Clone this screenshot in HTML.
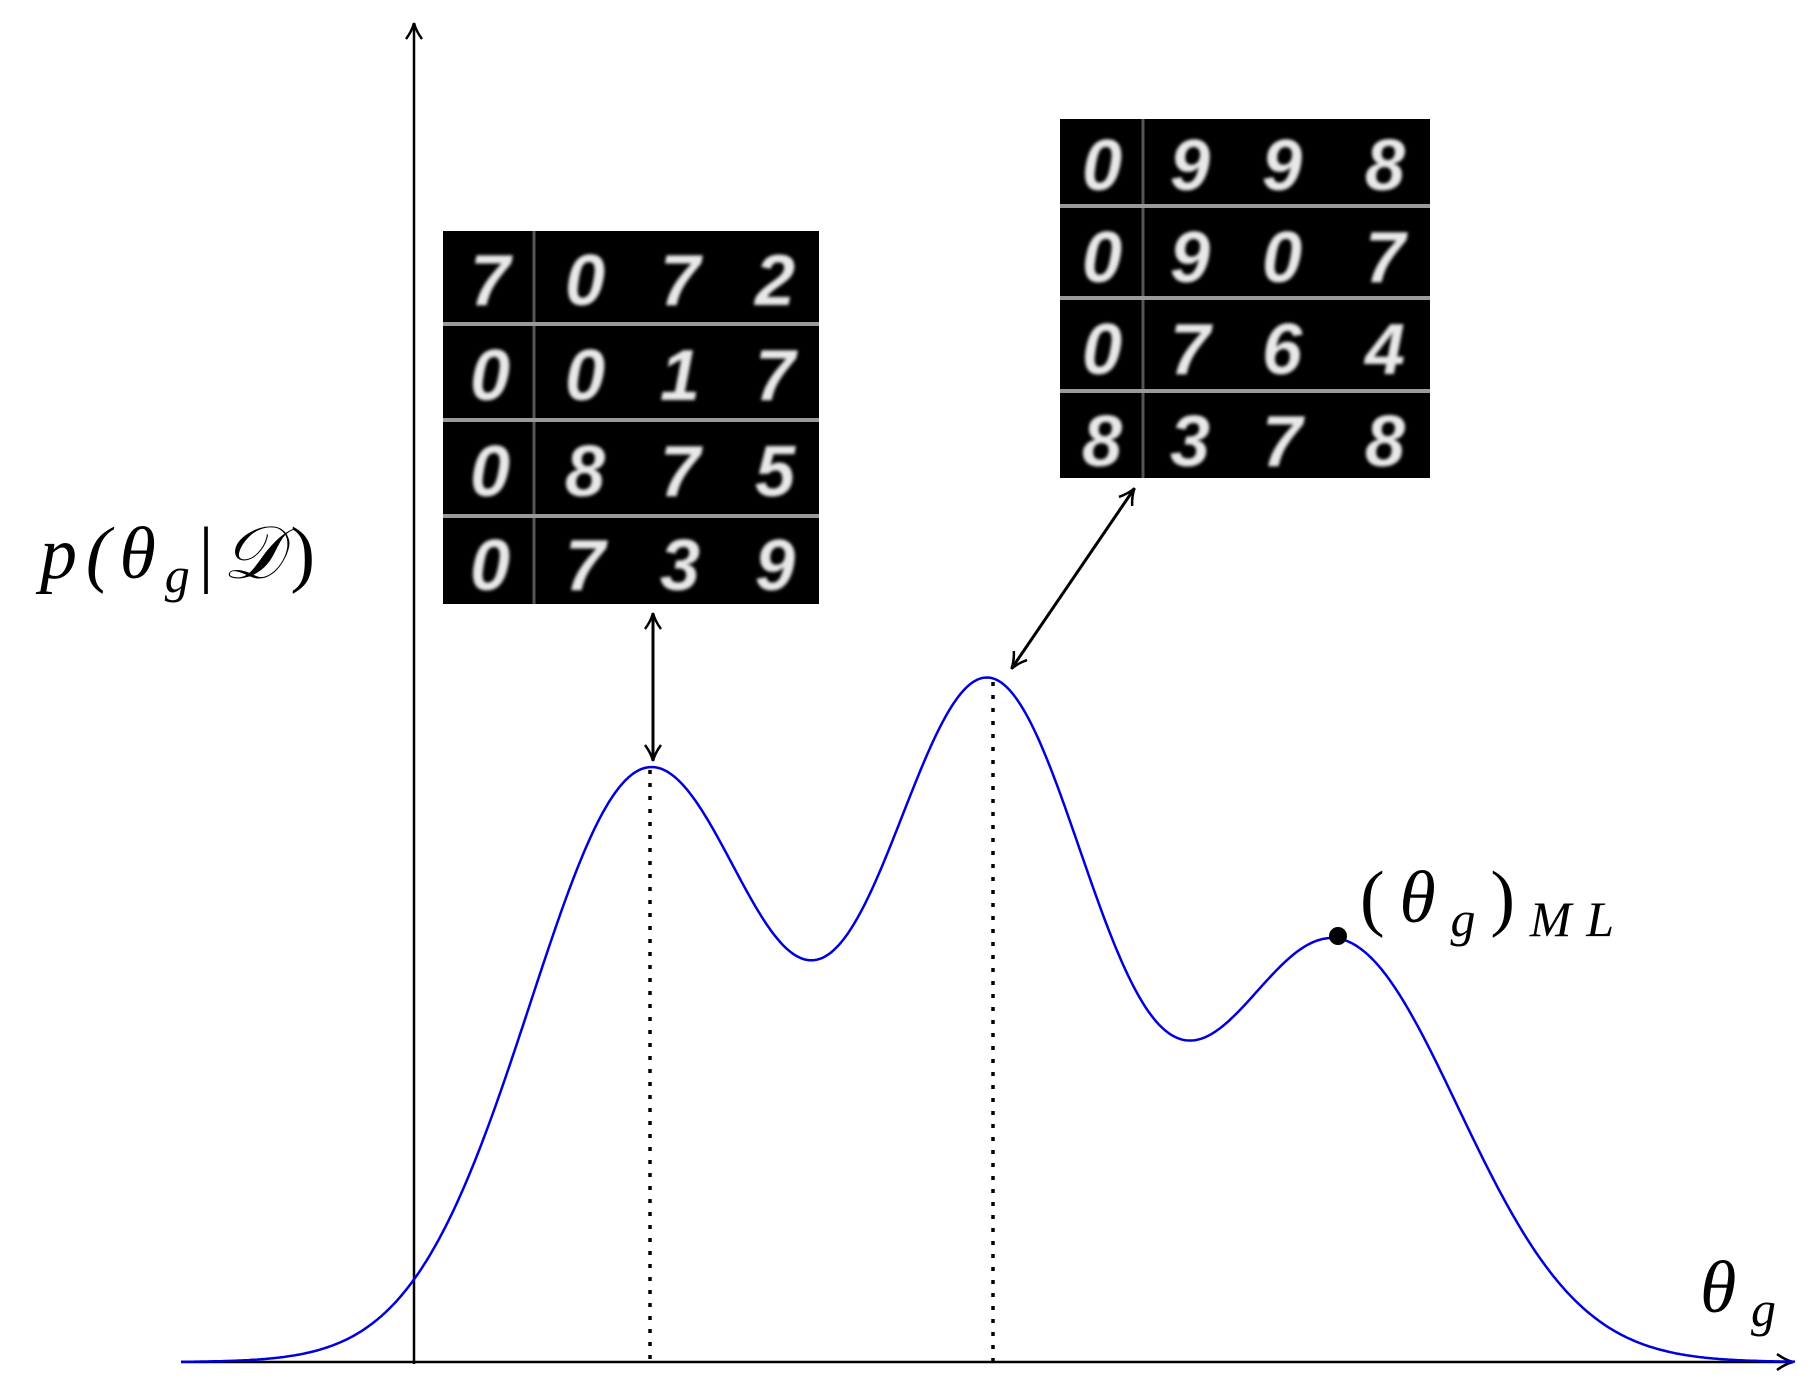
<!DOCTYPE html>
<html><head><meta charset="utf-8"><style>
html,body{margin:0;padding:0;background:#fff;}
svg{display:block;}
.d{font-family:"Liberation Sans",sans-serif;font-size:72px;fill:#e8e8e8;font-style:italic;font-weight:bold;}
.m{font-family:"Liberation Serif",serif;font-style:italic;fill:#000;}
</style></head><body>
<svg id="s" width="1818" height="1382" viewBox="0 0 1818 1382" xmlns="http://www.w3.org/2000/svg">
<defs>
<marker id="ah" viewBox="0 0 20 20" refX="17" refY="10" markerWidth="20" markerHeight="20" markerUnits="userSpaceOnUse" orient="auto-start-reverse">
<path d="M2,2 Q10,8 18,10 Q10,12 2,18" fill="none" stroke="#000" stroke-width="2.5"/>
</marker>
<filter id="bl"><feGaussianBlur stdDeviation="1.6"/></filter>
</defs>
<line x1="414" y1="1364" x2="414" y2="24" stroke="#000" stroke-width="2.5" marker-end="url(#ah)"/>
<line x1="181" y1="1362" x2="1792" y2="1362" stroke="#000" stroke-width="2.5" marker-end="url(#ah)"/>
<line x1="650" y1="770" x2="650" y2="1362" stroke="#000" stroke-width="3.5" stroke-dasharray="4,9"/>
<line x1="993" y1="682" x2="993" y2="1362" stroke="#000" stroke-width="3.5" stroke-dasharray="4,9"/>
<path id="curve" d="" fill="none" stroke="#0000dd" stroke-width="2.5"/>
<circle cx="1338" cy="936" r="9" fill="#000"/>
<line x1="653" y1="614" x2="653" y2="760" stroke="#000" stroke-width="3" marker-start="url(#ah)" marker-end="url(#ah)"/>
<line x1="1134" y1="489" x2="1012" y2="668" stroke="#000" stroke-width="3" marker-start="url(#ah)" marker-end="url(#ah)"/>
<rect x="443" y="231" width="376" height="373" fill="#000"/>
<g stroke="#9a9a9a" stroke-width="4">
<line x1="534" y1="231" x2="534" y2="604" stroke-width="3" stroke="#555"/>
<line x1="443" y1="324" x2="819" y2="324"/>
<line x1="443" y1="420" x2="819" y2="420"/>
<line x1="443" y1="516" x2="819" y2="516"/>
</g>
<g class="d" filter="url(#bl)" text-anchor="middle">
<text x="490" y="305">7</text><text x="585" y="305">0</text><text x="680" y="305">7</text><text x="775" y="305">2</text>
<text x="490" y="400">0</text><text x="585" y="400">0</text><text x="680" y="400">1</text><text x="775" y="400">7</text>
<text x="490" y="496">0</text><text x="585" y="496">8</text><text x="680" y="496">7</text><text x="775" y="496">5</text>
<text x="490" y="590">0</text><text x="585" y="590">7</text><text x="680" y="590">3</text><text x="775" y="590">9</text>
</g>
<rect x="1060" y="119" width="370" height="359" fill="#000"/>
<g stroke="#9a9a9a" stroke-width="4">
<line x1="1143" y1="119" x2="1143" y2="478" stroke-width="3" stroke="#555"/>
<line x1="1060" y1="206" x2="1430" y2="206"/>
<line x1="1060" y1="298" x2="1430" y2="298"/>
<line x1="1060" y1="391" x2="1430" y2="391"/>
</g>
<g class="d" filter="url(#bl)" text-anchor="middle">
<text x="1102" y="190">0</text><text x="1190" y="190">9</text><text x="1282" y="190">9</text><text x="1385" y="190">8</text>
<text x="1102" y="282">0</text><text x="1190" y="282">9</text><text x="1282" y="282">0</text><text x="1385" y="282">7</text>
<text x="1102" y="374">0</text><text x="1190" y="374">7</text><text x="1282" y="374">6</text><text x="1385" y="374">4</text>
<text x="1102" y="466">8</text><text x="1190" y="466">3</text><text x="1282" y="466">7</text><text x="1385" y="466">8</text>
</g>
<text class="m" x="40" y="578" font-size="74" textLength="275" lengthAdjust="spacing">p(θ<tspan font-size="50" dy="14">g</tspan><tspan dy="-14" font-style="normal">|</tspan>𝒟<tspan font-style="normal">)</tspan></text>
<text class="m" x="1360" y="922" font-size="74" textLength="254" lengthAdjust="spacing"><tspan font-style="normal">(</tspan>θ<tspan font-size="50" dy="14">g</tspan><tspan dy="-14" font-style="normal">)</tspan><tspan font-size="50" dy="14">ML</tspan></text>
<text class="m" x="1700" y="1312" font-size="74" textLength="76" lengthAdjust="spacing">θ<tspan font-size="50" dy="14">g</tspan></text>
</svg>
<script>
var g=[[648,590,118],[988,668,108],[1336,420,122]];
var d="";
for(var x=181;x<=1795;x+=2){var h=0;for(var i=0;i<3;i++){var t=(x-g[i][0])/g[i][2];h+=g[i][1]*Math.exp(-t*t/2);}
d+=(x==181?"M":"L")+x+","+(1362-h).toFixed(1)+" ";}
document.getElementById("curve").setAttribute("d",d);
</script>
</body></html>
